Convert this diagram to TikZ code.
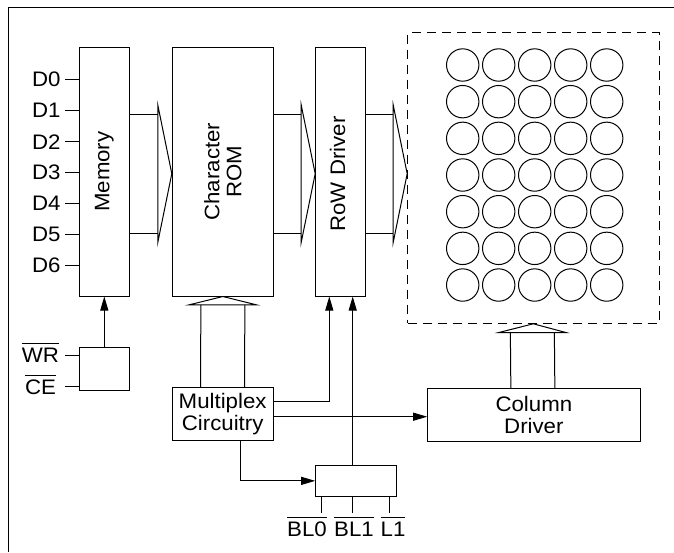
\documentclass[tikz,border=0pt]{standalone}
\usepackage{fontspec}
\setmainfont{Liberation Sans}[FakeStretch=1.06]
\usetikzlibrary{arrows.meta,calc}
\newcommand\myovl[1]{\leavevmode\vbox{\hrule height 0.9pt\kern4pt\hbox{#1}}}
\begin{document}
\begin{tikzpicture}[x=1pt,y=-1pt,line width=1pt,
  font=\fontsize{21}{22}\selectfont,
  blk/.style={draw,inner sep=0pt},
  arr/.style={-{Triangle[length=14pt,width=8pt]}},
  lbl/.style={inner sep=0pt}]
\useasboundingbox (0,0) rectangle (674,552);
\draw (8,552) -- (8,7) -- (674,7);

% blocks
\node[blk,minimum width=50pt,minimum height=248.7pt] (mem) at (104.3,171.65) {};
\node[blk,minimum width=101pt,minimum height=248.7pt] (rom) at (222.8,171.65) {};
\node[blk,minimum width=50pt,minimum height=248.7pt] (row) at (340.7,171.65) {};
\node[draw,dash pattern=on 9pt off 6pt,inner sep=0pt,minimum width=251.3pt,minimum height=290.6pt] (dot) at (533.35,178) {};
\node[blk,minimum width=50pt,minimum height=43.4pt] (wrce) at (104.3,369) {};
\node[blk,minimum width=101.3pt,minimum height=53pt,align=center] (mux) at (222.65,414.2) {Multiplex\\Circuitry};
\node[blk,minimum width=212.3pt,minimum height=53.4pt,align=center] (col) at (533.85,415) {Column\\Driver};
\node[blk,minimum width=80.3pt,minimum height=31.7pt] (bl) at (355.85,480.85) {};

\node[rotate=90] at (mem.center) {Memory};
\node[rotate=90,align=center] at (rom.center) {Character\\ROM};
\node[rotate=90] at (337.5,174) {RoW Driver};

% LED matrix
\foreach \c in {0,...,4} \foreach \r in {0,...,6}
  \draw (462.7+36*\c,65+36.67*\r) circle[radius=16.2];

% bus arrows
\coordinate (by) at (0,173.7);
\coordinate (ya) at (0,114.4);
\coordinate (yb) at (0,233);
\foreach \s/\d in {mem/rom,rom/row,row/dot} {
  \coordinate (tip) at (\d.west |- by);
  \draw (\s.east |- ya) -- ($(tip)+(-14,-59.3)$);
  \draw (\s.east |- yb) -- ($(tip)+(-14,59.3)$);
  \draw ($(tip)+(-14,-68.7)$) -- (tip) -- ($(tip)+(-14,68.7)$) -- cycle;
}

% vertical hollow arrows
\coordinate (ra) at ($(rom.south)+(0,8.3)$);
\draw ($(mux.north)+(-22,0)$) -- ($(ra)+(-22,0)$);
\draw ($(mux.north)+(22,0)$) -- ($(ra)+(22,0)$);
\draw ($(ra)+(-33.5,0)$) -- (rom.south) -- ($(ra)+(33.5,0)$) -- cycle;

\coordinate (ca) at ($(dot.south)+(0,8.7)$);
\draw ($(col.north)+(-23,0)$) -- ($(ca)+(-23,0)$);
\draw ($(col.north)+(21,0)$) -- ($(ca)+(21,0)$);
\draw ($(ca)+(-34.5,0)$) -- (dot.south) -- ($(ca)+(32.5,0)$) -- cycle;

% data leads
\foreach \i/\y in {0/79.3,1/110,2/141.7,3/172.7,4/203,5/234,6/265} {
  \coordinate (dl\i) at (65,\y);
  \node[lbl,anchor=east] at (61,\y) {D\i};
  \draw (dl\i) -- (mem.west |- dl\i);
}
\coordinate (wl) at (65,355);
\coordinate (cl) at (65,386.7);
\draw (wl) -- (wrce.west |- wl);
\draw (cl) -- (wrce.west |- cl);
\node[lbl,anchor=base east] at (59.5,362.5) {\myovl{WR}};
\node[lbl,anchor=base east] at (56.5,394.2) {\myovl{CE}};

% control arrows
\coordinate (ha) at (0,401.7);
\coordinate (hb) at (0,416.7);
\coordinate (va) at (329.3,0);
\coordinate (vb) at (352.7,0);
\coordinate (vc) at (240.7,0);
\draw[arr] (wrce.north) -- (mem.south);
\draw[arr] (mux.east |- ha) -| (row.south -| va);
\draw[arr] (mux.east |- hb) -- (col.west |- hb);
\draw[arr] (bl.north -| vb) -- (row.south -| vb);
\draw[arr] (mux.south -| vc) |- (bl.west);

% bottom leads
\foreach \i/\x in {0/321.7,1/352.7,2/389.3} {
  \coordinate (bx\i) at (\x,512.7);
  \draw (bl.south -| bx\i) -- (bx\i);
}
\node[lbl,anchor=base] at (307,536.7) {\myovl{BL0}};
\node[lbl,anchor=base] at (354,536.7) {\myovl{BL1}};
\node[lbl,anchor=base] at (393,536.7) {\myovl{L1}};
\end{tikzpicture}
\end{document}
